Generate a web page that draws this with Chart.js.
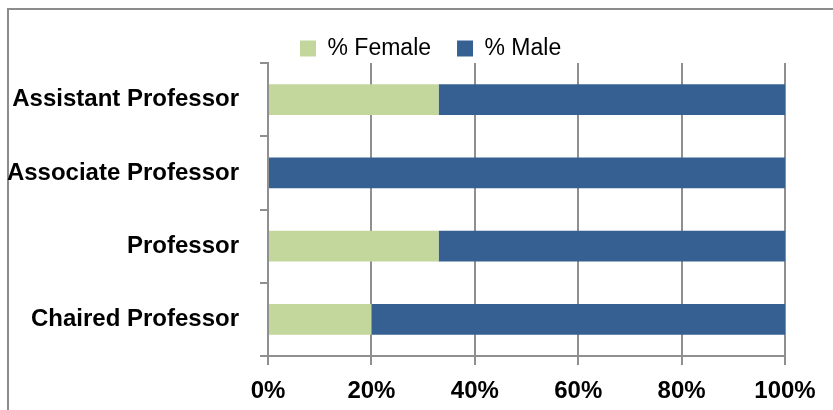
<!DOCTYPE html>
<html>
<head>
<meta charset="utf-8">
<script src="https://cdn.jsdelivr.net/npm/chart.js@4"></script>
<style>
html, body { margin: 0; padding: 0; background: #fff; overflow: hidden; }
canvas { display: block; }
</style>
</head>
<body>
<canvas id="rankChart" width="833" height="410"></canvas>
<script>
// values (percent of each rank)
const ranks = ['Assistant Professor', 'Associate Professor', 'Professor', 'Chaired Professor'];
const femalePct = [33, 0, 33, 20];
const malePct = [67, 100, 67, 80];
const seriesNames = ['% Female', '% Male'];

Chart.defaults.font.family = "'Liberation Sans', Arial, sans-serif";
Chart.defaults.color = '#000';

const gridGrey = '#8f8f8f';

// move the legend to where the original has it
const legendShift = {
    id: 'legendShift',
    afterLayout(chart) {
        const lg = chart.legend;
        const dx = 274 - lg.left;
        const dy = 11 - lg.top;
        lg.left += dx; lg.right += dx;
        lg.top += dy; lg.bottom += dy;
    }
};

// white background and the outer frame (top and left edges only are in view)
const chartFrame = {
    id: 'chartFrame',
    beforeDraw(chart) {
        const ctx = chart.ctx;
        ctx.save();
        ctx.fillStyle = '#fff';
        ctx.fillRect(0, 0, chart.width, chart.height);
        ctx.strokeStyle = '#8c8c8c';
        ctx.lineWidth = 2;
        ctx.beginPath();
        ctx.moveTo(8, chart.height);
        ctx.lineTo(8, 9);
        ctx.lineTo(chart.width, 9);
        ctx.stroke();
        ctx.restore();
    }
};

new Chart(document.getElementById('rankChart'), {
    type: 'bar',
    data: {
        labels: ranks,
        datasets: [{
            label: seriesNames[0],
            data: femalePct,
            backgroundColor: '#c3d69b',
            borderWidth: 0,
            barPercentage: 0.42,
            categoryPercentage: 1
        }, {
            label: seriesNames[1],
            data: malePct,
            backgroundColor: '#376092',
            borderWidth: 0,
            barPercentage: 0.42,
            categoryPercentage: 1
        }]
    },
    options: {
        indexAxis: 'y',
        responsive: false,
        animation: false,
        layout: {
            padding: { top: 4, right: 48, bottom: 0, left: 0 }
        },
        plugins: {
            legend: {
                position: 'top',
                align: 'start',
                labels: {
                    boxWidth: 16,
                    boxHeight: 16,
                    padding: 26,
                    font: { size: 23 }
                }
            },
            tooltip: { enabled: false }
        },
        scales: {
            x: {
                stacked: true,
                min: 0,
                max: 100,
                ticks: {
                    stepSize: 20,
                    padding: 12,
                    font: { size: 24, weight: 'bold' },
                    callback: v => v + '%'
                },
                grid: { color: gridGrey, lineWidth: 2, tickLength: 9 },
                border: { color: gridGrey, width: 2 },
                afterFit(scale) { scale.height = 54; }
            },
            y: {
                stacked: true,
                ticks: {
                    padding: 21,
                    font: { size: 24, weight: 'bold' }
                },
                grid: { drawOnChartArea: false, offset: true, color: gridGrey, lineWidth: 2, tickLength: 8 },
                border: { color: gridGrey, width: 2 },
                afterFit(scale) { scale.width = 268; }
            }
        }
    },
    plugins: [legendShift, chartFrame]
});
</script>
</body>
</html>
